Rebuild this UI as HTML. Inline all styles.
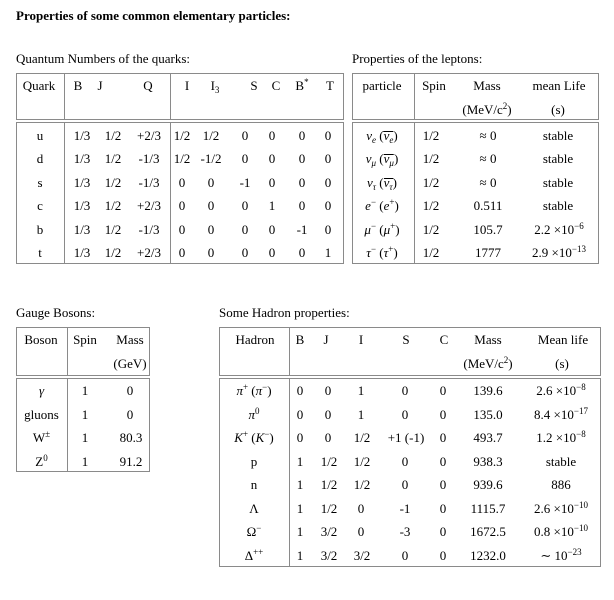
<!DOCTYPE html>
<html>
<head>
<meta charset="utf-8">
<style>
html,body{margin:0;padding:0;}
body{width:614px;height:600px;background:#fff;position:relative;overflow:hidden;font-family:"Liberation Serif","DejaVu Serif",serif;color:#000;}
.h{position:absolute;white-space:nowrap;font-size:13px;line-height:13px;}
.row{position:absolute;left:0;width:614px;height:13px;}
.row > span{position:absolute;top:0;transform:translateX(-50%);white-space:nowrap;font-size:13px;line-height:13px;}
sup{font-size:9px;vertical-align:baseline;position:relative;top:-5px;line-height:0;}
sub{font-size:9px;vertical-align:baseline;position:relative;top:3px;line-height:0;}
.ob{display:inline-block;border-top:1px solid #000;line-height:8px;}
svg{position:absolute;left:0;top:0;}
</style>
</head>
<body>
<svg width="614" height="600" viewBox="0 0 614 600">
<g fill="none" stroke="#8a8a8a" stroke-width="1">
<!-- Quark table -->
<rect x="16.5" y="73.5" width="327" height="46"/>
<rect x="16.5" y="122.5" width="327" height="141"/>
<line x1="64.5" y1="73.5" x2="64.5" y2="119.5"/>
<line x1="64.5" y1="122.5" x2="64.5" y2="263.5"/>
<line x1="170.5" y1="73.5" x2="170.5" y2="119.5"/>
<line x1="170.5" y1="122.5" x2="170.5" y2="263.5"/>
<!-- Lepton table -->
<rect x="352.5" y="73.5" width="246" height="46"/>
<rect x="352.5" y="122.5" width="246" height="141"/>
<line x1="414.5" y1="73.5" x2="414.5" y2="119.5"/>
<line x1="414.5" y1="122.5" x2="414.5" y2="263.5"/>
<!-- Gauge table -->
<rect x="16.5" y="327.5" width="133" height="48"/>
<rect x="16.5" y="378.5" width="133" height="93"/>
<line x1="67.5" y1="327.5" x2="67.5" y2="375.5"/>
<line x1="67.5" y1="378.5" x2="67.5" y2="471.5"/>
<!-- Hadron table -->
<rect x="219.5" y="327.5" width="381" height="48"/>
<rect x="219.5" y="378.5" width="381" height="188"/>
<line x1="289.5" y1="327.5" x2="289.5" y2="375.5"/>
<line x1="289.5" y1="378.5" x2="289.5" y2="566.5"/>
</g>
</svg>

<div class="h" style="left:16px;top:9.1px;font-weight:bold;">Properties of some common elementary particles:</div>
<div class="h" style="left:16px;top:52.1px;">Quantum Numbers of the quarks:</div>
<div class="h" style="left:352px;top:52.1px;">Properties of the leptons:</div>
<div class="h" style="left:16px;top:306.1px;">Gauge Bosons:</div>
<div class="h" style="left:219px;top:306.1px;">Some Hadron properties:</div>

<!-- Quark header -->
<div class="row" style="top:79.1px">
<span style="left:39px">Quark</span><span style="left:78px">B</span><span style="left:100px">J</span><span style="left:148px">Q</span>
<span style="left:187px">I</span><span style="left:215px">I<sub>3</sub></span><span style="left:254px">S</span><span style="left:276px">C</span><span style="left:302px">B<sup>*</sup></span><span style="left:330px">T</span>
<span style="left:382px">particle</span><span style="left:434px">Spin</span><span style="left:487px">Mass</span><span style="left:559px">mean Life</span>
</div>
<div class="row" style="top:102.6px">
<span style="left:487px">(MeV/c<sup>2</sup>)</span><span style="left:558px">(s)</span>
</div>

<!-- Quark + lepton rows -->
<div class="row" style="top:128.6px">
<span style="left:40px">u</span><span style="left:82px">1/3</span><span style="left:113px">1/2</span><span style="left:149px">+2/3</span><span style="left:182px">1/2</span><span style="left:211px">1/2</span><span style="left:245px">0</span><span style="left:272px">0</span><span style="left:302px">0</span><span style="left:328px">0</span>
<span style="left:382px"><i>ν</i><sub><i>e</i></sub> (<span class="ob"><i>ν</i><sub><i>e</i></sub></span>)</span><span style="left:431px">1/2</span><span style="left:488px">≈ 0</span><span style="left:558px">stable</span>
</div>
<div class="row" style="top:152.1px">
<span style="left:40px">d</span><span style="left:82px">1/3</span><span style="left:113px">1/2</span><span style="left:149px">-1/3</span><span style="left:182px">1/2</span><span style="left:211px">-1/2</span><span style="left:245px">0</span><span style="left:272px">0</span><span style="left:302px">0</span><span style="left:328px">0</span>
<span style="left:382px"><i>ν</i><sub><i>μ</i></sub> (<span class="ob"><i>ν</i><sub><i>μ</i></sub></span>)</span><span style="left:431px">1/2</span><span style="left:488px">≈ 0</span><span style="left:558px">stable</span>
</div>
<div class="row" style="top:175.6px">
<span style="left:40px">s</span><span style="left:82px">1/3</span><span style="left:113px">1/2</span><span style="left:149px">-1/3</span><span style="left:182px">0</span><span style="left:211px">0</span><span style="left:245px">-1</span><span style="left:272px">0</span><span style="left:302px">0</span><span style="left:328px">0</span>
<span style="left:382px"><i>ν</i><sub><i>τ</i></sub> (<span class="ob"><i>ν</i><sub><i>τ</i></sub></span>)</span><span style="left:431px">1/2</span><span style="left:488px">≈ 0</span><span style="left:558px">stable</span>
</div>
<div class="row" style="top:199.1px">
<span style="left:40px">c</span><span style="left:82px">1/3</span><span style="left:113px">1/2</span><span style="left:149px">+2/3</span><span style="left:182px">0</span><span style="left:211px">0</span><span style="left:245px">0</span><span style="left:272px">1</span><span style="left:302px">0</span><span style="left:328px">0</span>
<span style="left:382px"><i>e</i><sup>−</sup> (<i>e</i><sup>+</sup>)</span><span style="left:431px">1/2</span><span style="left:488px">0.511</span><span style="left:558px">stable</span>
</div>
<div class="row" style="top:222.6px">
<span style="left:40px">b</span><span style="left:82px">1/3</span><span style="left:113px">1/2</span><span style="left:149px">-1/3</span><span style="left:182px">0</span><span style="left:211px">0</span><span style="left:245px">0</span><span style="left:272px">0</span><span style="left:302px">-1</span><span style="left:328px">0</span>
<span style="left:382px"><i>μ</i><sup>−</sup> (<i>μ</i><sup>+</sup>)</span><span style="left:431px">1/2</span><span style="left:488px">105.7</span><span style="left:559px">2.2 ×10<sup>−6</sup></span>
</div>
<div class="row" style="top:246.1px">
<span style="left:40px">t</span><span style="left:82px">1/3</span><span style="left:113px">1/2</span><span style="left:149px">+2/3</span><span style="left:182px">0</span><span style="left:211px">0</span><span style="left:245px">0</span><span style="left:272px">0</span><span style="left:302px">0</span><span style="left:328px">1</span>
<span style="left:382px"><i>τ</i><sup>−</sup> (<i>τ</i><sup>+</sup>)</span><span style="left:431px">1/2</span><span style="left:488px">1777</span><span style="left:559px">2.9 ×10<sup>−13</sup></span>
</div>

<!-- Gauge + Hadron header -->
<div class="row" style="top:333.1px">
<span style="left:41px">Boson</span><span style="left:85px">Spin</span><span style="left:130px">Mass</span>
<span style="left:255px">Hadron</span><span style="left:300px">B</span><span style="left:326px">J</span><span style="left:361px">I</span><span style="left:406px">S</span><span style="left:444px">C</span><span style="left:488px">Mass</span><span style="left:563px">Mean life</span>
</div>
<div class="row" style="top:356.6px">
<span style="left:130px">(GeV)</span>
<span style="left:488px">(MeV/c<sup>2</sup>)</span><span style="left:562px">(s)</span>
</div>

<!-- Body rows -->
<div class="row" style="top:384.1px">
<span style="left:41.5px"><i>γ</i></span><span style="left:85px">1</span><span style="left:130px">0</span>
<span style="left:254px"><i>π</i><sup>+</sup> (<i>π</i><sup>−</sup>)</span><span style="left:300px">0</span><span style="left:328px">0</span><span style="left:361px">1</span><span style="left:405px">0</span><span style="left:443px">0</span><span style="left:488px">139.6</span><span style="left:561px">2.6 ×10<sup>−8</sup></span>
</div>
<div class="row" style="top:407.6px">
<span style="left:41.5px">gluons</span><span style="left:85px">1</span><span style="left:130px">0</span>
<span style="left:254px"><i>π</i><sup>0</sup></span><span style="left:300px">0</span><span style="left:328px">0</span><span style="left:361px">1</span><span style="left:405px">0</span><span style="left:443px">0</span><span style="left:488px">135.0</span><span style="left:561px">8.4 ×10<sup>−17</sup></span>
</div>
<div class="row" style="top:431.1px">
<span style="left:41.5px">W<sup>±</sup></span><span style="left:85px">1</span><span style="left:131px">80.3</span>
<span style="left:254px"><i>K</i><sup>+</sup> (<i>K</i><sup>−</sup>)</span><span style="left:300px">0</span><span style="left:328px">0</span><span style="left:362px">1/2</span><span style="left:406px">+1 (-1)</span><span style="left:443px">0</span><span style="left:488px">493.7</span><span style="left:561px">1.2 ×10<sup>−8</sup></span>
</div>
<div class="row" style="top:454.6px">
<span style="left:41.5px">Z<sup>0</sup></span><span style="left:85px">1</span><span style="left:131px">91.2</span>
<span style="left:254px">p</span><span style="left:300px">1</span><span style="left:329px">1/2</span><span style="left:362px">1/2</span><span style="left:405px">0</span><span style="left:443px">0</span><span style="left:488px">938.3</span><span style="left:561px">stable</span>
</div>
<div class="row" style="top:478.1px">
<span style="left:254px">n</span><span style="left:300px">1</span><span style="left:329px">1/2</span><span style="left:362px">1/2</span><span style="left:405px">0</span><span style="left:443px">0</span><span style="left:488px">939.6</span><span style="left:561px">886</span>
</div>
<div class="row" style="top:501.6px">
<span style="left:254px">Λ</span><span style="left:300px">1</span><span style="left:329px">1/2</span><span style="left:361px">0</span><span style="left:405px">-1</span><span style="left:443px">0</span><span style="left:488px">1115.7</span><span style="left:561px">2.6 ×10<sup>−10</sup></span>
</div>
<div class="row" style="top:525.1px">
<span style="left:254px">Ω<sup>−</sup></span><span style="left:300px">1</span><span style="left:329px">3/2</span><span style="left:361px">0</span><span style="left:405px">-3</span><span style="left:443px">0</span><span style="left:488px">1672.5</span><span style="left:561px">0.8 ×10<sup>−10</sup></span>
</div>
<div class="row" style="top:548.6px">
<span style="left:254px">Δ<sup>++</sup></span><span style="left:300px">1</span><span style="left:329px">3/2</span><span style="left:362px">3/2</span><span style="left:405px">0</span><span style="left:443px">0</span><span style="left:488px">1232.0</span><span style="left:561px">∼ 10<sup>−23</sup></span>
</div>

</body>
</html>
